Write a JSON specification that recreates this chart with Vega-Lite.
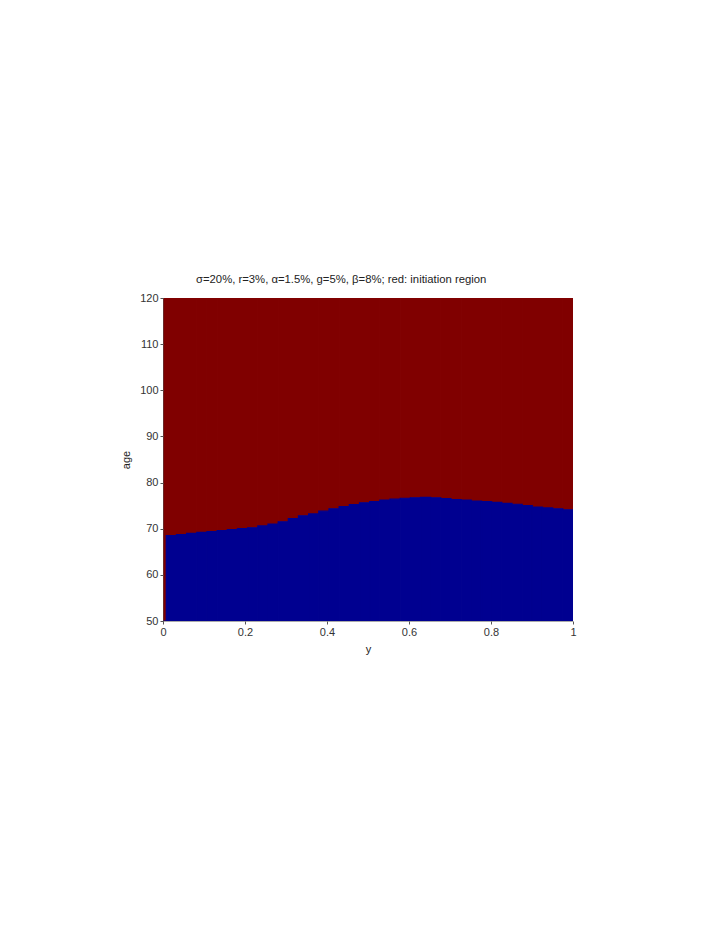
{
  "$schema": "https://vega.github.io/schema/vega-lite/v6.json",
  "width": 410,
  "height": 323,
  "autosize": {"type": "none"},
  "padding": {"left": 163, "top": 298, "right": 147, "bottom": 310},
  "background": "white",
  "config": {"view": {"stroke": null}, "font": "Liberation Sans"},
  "title": {"text": "σ=20%, r=3%, α=1.5%, g=5%, β=8%; red: initiation region", "anchor": "start", "frame": "group", "dx": 33, "offset": 7, "fontSize": 11.3, "fontWeight": "normal", "font": "Liberation Sans", "color": "#222222"},
  "data": {"values": [
    {"x0": 0.0, "x1": 0.008, "b": 50},
    {"x0": 0.008, "x1": 0.0328, "b": 68.5},
    {"x0": 0.0328, "x1": 0.0576, "b": 68.7},
    {"x0": 0.0576, "x1": 0.0824, "b": 69.0},
    {"x0": 0.0824, "x1": 0.1072, "b": 69.2},
    {"x0": 0.1072, "x1": 0.132, "b": 69.4},
    {"x0": 0.132, "x1": 0.1568, "b": 69.6},
    {"x0": 0.1568, "x1": 0.1816, "b": 69.8},
    {"x0": 0.1816, "x1": 0.2064, "b": 70.0},
    {"x0": 0.2064, "x1": 0.2312, "b": 70.2},
    {"x0": 0.2312, "x1": 0.256, "b": 70.6},
    {"x0": 0.256, "x1": 0.2808, "b": 71.0},
    {"x0": 0.2808, "x1": 0.3056, "b": 71.5},
    {"x0": 0.3056, "x1": 0.3304, "b": 72.2},
    {"x0": 0.3304, "x1": 0.3552, "b": 72.8},
    {"x0": 0.3552, "x1": 0.38, "b": 73.2},
    {"x0": 0.38, "x1": 0.4048, "b": 73.8},
    {"x0": 0.4048, "x1": 0.4296, "b": 74.3},
    {"x0": 0.4296, "x1": 0.4544, "b": 74.8},
    {"x0": 0.4544, "x1": 0.4792, "b": 75.2},
    {"x0": 0.4792, "x1": 0.504, "b": 75.6},
    {"x0": 0.504, "x1": 0.5288, "b": 75.9},
    {"x0": 0.5288, "x1": 0.5536, "b": 76.2},
    {"x0": 0.5536, "x1": 0.5784, "b": 76.4},
    {"x0": 0.5784, "x1": 0.6032, "b": 76.6},
    {"x0": 0.6032, "x1": 0.628, "b": 76.7},
    {"x0": 0.628, "x1": 0.6528, "b": 76.8},
    {"x0": 0.6528, "x1": 0.6776, "b": 76.7},
    {"x0": 0.6776, "x1": 0.7024, "b": 76.5},
    {"x0": 0.7024, "x1": 0.7272, "b": 76.3},
    {"x0": 0.7272, "x1": 0.752, "b": 76.2},
    {"x0": 0.752, "x1": 0.7768, "b": 76.0},
    {"x0": 0.7768, "x1": 0.8016, "b": 75.9},
    {"x0": 0.8016, "x1": 0.8264, "b": 75.7},
    {"x0": 0.8264, "x1": 0.8512, "b": 75.5},
    {"x0": 0.8512, "x1": 0.876, "b": 75.3},
    {"x0": 0.876, "x1": 0.9008, "b": 75.0},
    {"x0": 0.9008, "x1": 0.9256, "b": 74.7},
    {"x0": 0.9256, "x1": 0.9504, "b": 74.5},
    {"x0": 0.9504, "x1": 0.9752, "b": 74.3},
    {"x0": 0.9752, "x1": 1.0, "b": 74.1}
  ]},
  "layer": [
    {
      "mark": {"type": "rect", "color": "#800000", "stroke": "#800000", "strokeWidth": 1.2, "clip": true},
      "encoding": {
        "x": {"field": "x0", "type": "quantitative", "scale": {"domain": [0, 1], "nice": false, "zero": false},
          "axis": {"title": "y", "values": [0, 0.2, 0.4, 0.6, 0.8, 1], "format": "~g", "labelFontSize": 11, "labelColor": "#333333", "titleFontSize": 11, "titleFontWeight": "normal", "titleColor": "#222222", "titlePadding": 6, "domainColor": "#555555", "domainDash": [1, 1], "tickColor": "#555555", "tickSize": 3, "grid": false, "labelPadding": 2, "labelFlush": false, "zindex": 1}},
        "x2": {"field": "x1"},
        "y": {"field": "b", "type": "quantitative", "scale": {"domain": [50, 120], "nice": false, "zero": false},
          "axis": {"title": "age", "values": [50, 60, 70, 80, 90, 100, 110, 120], "labelFontSize": 11, "labelColor": "#333333", "titleFontSize": 11, "titleFontWeight": "normal", "titleColor": "#222222", "titlePadding": 8, "domainColor": "#555555", "domainDash": [1, 1], "tickColor": "#555555", "tickSize": 3, "grid": false, "labelPadding": 2, "zindex": 1}},
        "y2": {"datum": 120}
      }
    },
    {
      "mark": {"type": "rect", "color": "#000090", "stroke": "#000090", "strokeWidth": 1.2, "clip": true},
      "encoding": {
        "x": {"field": "x0", "type": "quantitative"},
        "x2": {"field": "x1"},
        "y": {"field": "b", "type": "quantitative"},
        "y2": {"datum": 50}
      }
    }
  ]
}
